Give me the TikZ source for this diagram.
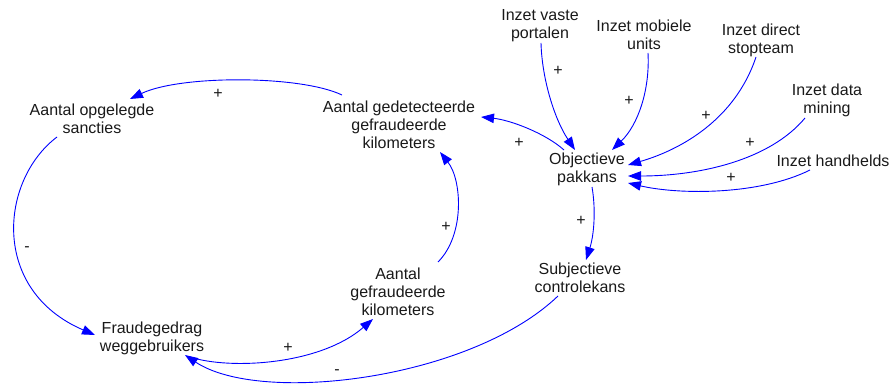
\documentclass[tikz,border=0pt]{standalone}
\usepackage{fontspec}
\setmainfont{Liberation Sans}
\usetikzlibrary{arrows.meta,calc}
\definecolor{linkblue}{RGB}{0,0,255}
\definecolor{txt}{RGB}{25,25,25}

\begin{document}
\begin{tikzpicture}[x=1pt,y=-1pt,
  var/.style={align=center,font=\fontsize{16}{18}\selectfont,text=txt,inner sep=0pt},
  sign/.style={font=\fontsize{16}{18}\selectfont,text=txt,inner sep=0pt},
  link/.style={draw=linkblue,line width=0.9pt,-{Triangle[length=13pt,width=9.5pt]}}
]
\useasboundingbox (0,0) rectangle (893,385);

% variables
\node[var] (sanc)   at (92,119)  {Aantal opgelegde\\sancties};
\node[var] (gedet)  at (399,125) {Aantal gedetecteerde\\gefraudeerde\\kilometers};
\node[var] (obj)    at (587,169) {Objectieve\\pakkans};
\node[var] (subj)   at (580,278) {Subjectieve\\controlekans};
\node[var] (gefr)   at (398,292) {Aantal\\gefraudeerde\\kilometers};
\node[var] (fraud)  at (152,338) {Fraudegedrag\\weggebruikers};
\node[var] (vaste)  at (540,26)  {Inzet vaste\\portalen};
\node[var] (mob)    at (644,35)  {Inzet mobiele\\units};
\node[var] (direct) at (761,40)  {Inzet direct\\stopteam};
\node[var] (data)   at (827,100) {Inzet data\\mining};
\node[var] (hand)   at (833,161) {Inzet handhelds};

% causal links
\draw[link] ($(gedet)+(-57,-30)$) .. controls +(-42,-20) and +(50,-24) .. ($(sanc)+(38,-20)$);
\draw[link] ($(sanc)+(-35,18)$) .. controls +(-57,43) and +(-105,-45) .. ($(fraud)+(-57,-3)$);
\draw[link] ($(fraud)+(38,19)$) .. controls +(40,13) and +(-53,46) .. ($(gefr)+(-25,27)$);
\draw[link] ($(subj)+(-22,18)$) .. controls +(-88,84) and +(75,50) .. ($(fraud)+(33,17)$);
\draw[link] ($(gefr)+(40,-30)$) .. controls +(27,-27) and +(22,28) .. ($(gedet)+(41,27)$);
\draw[link] ($(obj)+(5,18)$) .. controls +(4,23) and +(8,-25) .. ($(subj)+(6,-18)$);
\draw[link] ($(obj)+(-23,-19)$) .. controls +(-19,-17) and +(29,3) .. ($(gedet)+(82,-8)$);
\draw[link] ($(vaste)+(1,17)$) .. controls +(1,37) and +(-20,-30) .. ($(obj)+(-12,-19)$);
\draw[link] ($(mob)+(4,18)$) .. controls +(2,37) and +(26,-25) .. ($(obj)+(25,-19)$);
\draw[link] ($(direct)+(-5,17)$) .. controls +(-21,63) and +(52,-15) .. ($(obj)+(41,-4)$);
\draw[link] ($(data)+(-22,18)$) .. controls +(-35,42) and +(72,0) .. ($(obj)+(41,7)$);
\draw[link] ($(hand)+(-23,9)$) .. controls +(-50,25) and +(52,12) .. ($(obj)+(41,14)$);

% polarities
\node[sign] (p1)  at (218,94)  {+};
\node[sign] (p2)  at (27,249)  {-};
\node[sign] (p3)  at (288,348) {+};
\node[sign] (p4)  at (337,372) {-};
\node[sign] (p5)  at (446,227) {+};
\node[sign] (p6)  at (581,221) {+};
\node[sign] (p7)  at (519,143) {+};
\node[sign] (p8)  at (558,71)  {+};
\node[sign] (p9)  at (629,101) {+};
\node[sign] (p10) at (706,116) {+};
\node[sign] (p11) at (750,143) {+};
\node[sign] (p12) at (731,178) {+};
\end{tikzpicture}
\end{document}
